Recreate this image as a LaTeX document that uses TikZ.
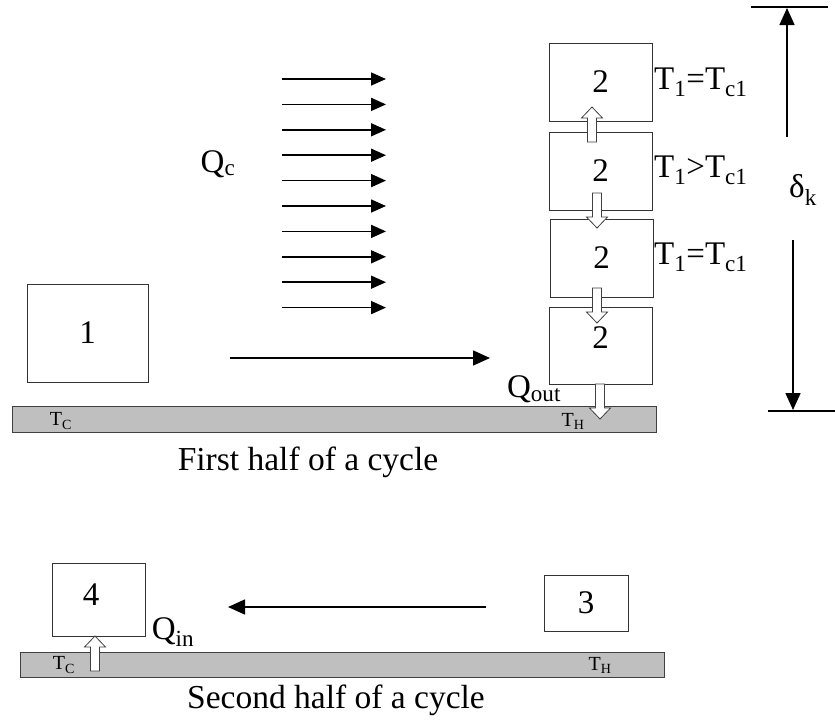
\documentclass[tikz,border=0pt]{standalone}
\usepackage{fontspec}
\setmainfont{Liberation Serif}
\usetikzlibrary{arrows.meta}
\begin{document}
\begin{tikzpicture}[x=1pt,y=-1pt,
  box/.style={draw=black!80, line width=0.9pt, fill=white, inner sep=0pt,
    font=\fontsize{33}{36}\selectfont},
  plate/.style={draw=black!75, line width=0.9pt, fill=black!25, inner sep=0pt},
  lbl/.style={inner sep=0pt, font=\fontsize{33}{38}\selectfont},
  small/.style={inner sep=0pt, font=\fontsize{20}{22}\selectfont},
  title/.style={inner sep=0pt, font=\fontsize{33.5}{38}\selectfont},
  flow/.style={line width=1.6pt, -{Triangle[length=15pt,width=13pt]}},
  big/.style={line width=1.6pt, -{Triangle[length=17pt,width=15pt]}},
  dim/.style={line width=1.3pt},
  hollow/.style={draw=black!75, line width=0.8pt, fill=white},
  harrow/.pic={\draw[hollow] (-4.5,0) -- (-4.5,24) -- (-10.5,24) -- (0,35) -- (10.5,24) -- (4.5,24) -- (4.5,0) -- cycle;}
]
\useasboundingbox (0,0) rectangle (835,721);

% first half
\node[box, minimum width=121pt, minimum height=98pt] (b1) at (87.5,333) {1};
\node[plate, minimum width=644pt, minimum height=26pt] (p1) at (334,419) {};
\node[box, minimum width=103pt, minimum height=78pt] (bA) at (600.5,82) {2};
\node[box, minimum width=103pt, minimum height=78pt] (bB) at (600.5,171) {2};
\node[box, minimum width=103pt, minimum height=78pt] (bC) at (601.5,258) {2};
\node[box, minimum width=103pt, minimum height=77pt] (bD) at (600.5,345.5) {};
\node[box, draw=none, fill=none] at (600.5,338) {2};

\pic[yscale=-1] at (592,142) {harrow};
\pic at (597,193) {harrow};
\pic at (597,288) {harrow};
\pic at (600,384) {harrow};

\node[small] (tc1) at (61,421) {T\textsubscript{C}};
\node[small] (th1) at (573,421) {T\textsubscript{H}};
\node[lbl] (qout) at (534,389) {Q\textsubscript{out}};
\node[lbl, anchor=west] (l1) at (654,82) {T\textsubscript{1}=T\textsubscript{c1}};
\node[lbl, anchor=west] (l2) at (654,170) {T\textsubscript{1}>T\textsubscript{c1}};
\node[lbl, anchor=west] (l3) at (654,257) {T\textsubscript{1}=T\textsubscript{c1}};
\node[lbl] (qc) at (218,164) {Q\textsubscript{c}};
\node[lbl] (dk) at (803,190) {δ\textsubscript{k}};
\node[title] (t1) at (308,462) {First half of a cycle};

\foreach \i in {0,...,9} {
  \coordinate (qa\i) at (282,{79+25.4*\i});
  \coordinate (qb\i) at (386,{79+25.4*\i});
  \draw[flow] (qa\i) -- (qb\i);
}
\coordinate (m1) at (230,358);
\coordinate (m2) at (490,358);
\draw[big] (m1) -- (m2);

\coordinate (dt1) at (751,7);
\coordinate (dt2) at (828,7);
\coordinate (db1) at (768,411);
\coordinate (db2) at (835,411);
\draw[dim] (dt1) -- (dt2);
\draw[dim] (db1) -- (db2);
\coordinate (ua) at (787,137);
\coordinate (ub) at (787,8);
\coordinate (da) at (793,240);
\coordinate (db) at (793,410);
\draw[big] (ua) -- (ub);
\draw[big] (da) -- (db);

% second half
\node[box, minimum width=93pt, minimum height=73pt] (b4) at (98.5,599.5) {};
\node[box, draw=none, fill=none] at (91,595) {4};
\node[box, minimum width=84pt, minimum height=56pt] (b3) at (586,603) {3};
\node[plate, minimum width=644pt, minimum height=25pt] (p2) at (342,664.5) {};
\pic[yscale=-1] at (95,671) {harrow};
\node[small] (tc2) at (64,665) {T\textsubscript{C}};
\node[small] (th2) at (600,665) {T\textsubscript{H}};
\node[lbl] (qin) at (173,632) {Q\textsubscript{in}};
\coordinate (s1) at (486,607);
\coordinate (s2) at (228,607);
\draw[big] (s1) -- (s2);
\node[title] (t2) at (336,700) {Second half of a cycle};
\end{tikzpicture}
\end{document}
